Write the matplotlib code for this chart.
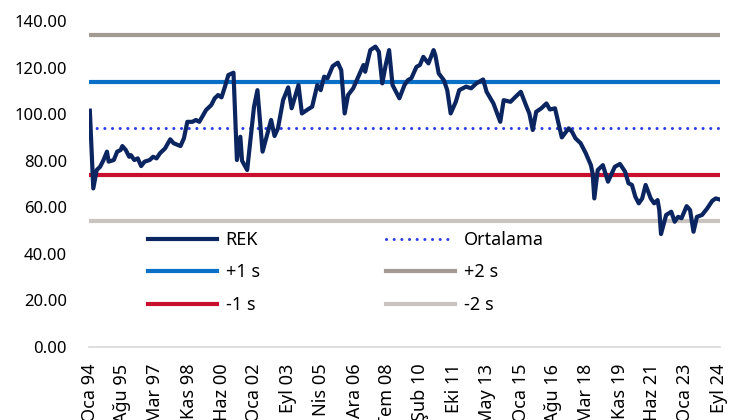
import matplotlib
matplotlib.use('Agg')
from matplotlib import pyplot as plt

# months since Jan 1994, REK value
months = [0, 2, 4, 6, 8, 10, 11, 14, 16, 18, 19, 21, 23, 24, 26, 28, 30, 32,
          35, 37, 39, 41, 44, 47, 49, 53, 55, 57, 60, 62, 64, 68, 71, 73, 75,
          77, 79, 81, 84, 86, 88, 89, 92, 96, 98, 101, 106, 108, 110, 113, 116,
          118, 122, 124, 127, 130, 133, 135, 137, 139, 142, 145, 147, 149, 151,
          154, 157, 160, 161, 164, 167, 169, 171, 173, 175, 177, 181, 184, 186,
          188, 191, 193, 195, 198, 201, 202, 204, 207, 209, 211, 214, 216, 220,
          223, 226, 230, 232, 236, 240, 242, 246, 249, 252, 255, 257, 259, 261,
          264, 267, 269, 272, 276, 280, 282, 284, 287, 290, 293, 294, 295, 297,
          300, 303, 307, 310, 313, 315, 317, 319, 321, 323, 325, 328, 330, 332,
          333, 334, 337, 340, 342, 344, 346, 349, 351, 353, 355, 358, 361, 364,
          366, 368]
rek = [101.5, 68.1, 76.0, 77.4, 80.3, 83.9, 79.6, 80.3, 83.9, 84.6, 86.3, 84.6,
       81.7, 82.4, 80.3, 81.0, 77.7, 79.6, 80.3, 81.7, 81.0, 83.2, 85.3, 89.2,
       87.5, 86.3, 89.6, 96.7, 96.7, 97.5, 96.7, 101.8, 103.9, 106.8, 108.2,
       107.2, 111.8, 116.8, 117.8, 80.3, 90.3, 80.0, 76.0, 103.2, 110.3, 83.9,
       97.5, 90.6, 93.9, 106.0, 111.5, 102.5, 112.5, 100.3, 101.8, 103.2, 112.5,
       110.3, 116.1, 115.4, 120.6, 122.1, 118.9, 100.3, 108.2, 111.1, 116.1,
       121.1, 118.2, 127.5, 129.0, 126.8, 113.2, 121.1, 127.5, 112.5, 106.8,
       112.5, 114.6, 115.4, 120.3, 121.1, 124.6, 121.8, 127.5, 125.4, 117.5,
       114.6, 110.3, 100.3, 105.3, 110.3, 111.8, 111.1, 113.2, 114.9, 109.6,
       104.6, 96.7, 106.0, 105.3, 107.5, 109.6, 103.9, 100.3, 93.2, 101.0,
       102.5, 104.6, 102.0, 102.5, 90.0, 93.9, 92.4, 89.6, 87.5, 83.2, 78.1,
       74.6, 63.8, 76.0, 78.1, 71.0, 77.4, 78.6, 75.3, 70.3, 69.6, 64.5, 61.7,
       63.8, 69.6, 63.8, 61.7, 63.1, 58.8, 48.5, 56.7, 58.1, 53.8, 55.9, 55.3,
       60.5, 58.8, 49.5, 55.9, 56.7, 59.5, 62.8, 63.8, 63.4]

ortalama = 93.9
sapma = 20.0

tick_months = [0, 19, 38, 58, 77, 96, 116, 135, 155, 174, 193, 213, 232, 252,
               271, 290, 310, 329, 348, 368]
tick_labels = ['Oca 94', 'Ağu 95', 'Mar 97', 'Kas 98', 'Haz 00', 'Oca 02',
               'Eyl 03', 'Nis 05', 'Ara 06', 'Tem 08', 'Şub 10', 'Eki 11',
               'May 13', 'Oca 15', 'Ağu 16', 'Mar 18', 'Kas 19', 'Haz 21',
               'Oca 23', 'Eyl 24']

plt.rcParams['font.family'] = ['Noto Sans', 'DejaVu Sans']

fig = plt.figure(figsize=(7.31, 4.2), dpi=100)
ax = fig.add_axes([89/731, 73/420, 631/731, 326/420])

xs = [-0.5, 368.5]
lw = 3.0
l_rek, = ax.plot(months, rek, color='#0b2560', lw=lw, zorder=5,
                 solid_joinstyle='round', label='REK')
l_p1, = ax.plot(xs, [ortalama + sapma]*2, color='#0a6fc6', lw=lw, label='+1 s')
l_m1, = ax.plot(xs, [ortalama - sapma]*2, color='#c8102e', lw=lw, label='-1 s')
l_ort, = ax.plot(xs, [ortalama]*2, color='#2a3de6', lw=2.2,
                 linestyle=(0, (0.01, 2.5)), dash_capstyle='round',
                 label='Ortalama')
l_p2, = ax.plot(xs, [ortalama + 2*sapma]*2, color='#a39a91', lw=lw, label='+2 s')
l_m2, = ax.plot(xs, [ortalama - 2*sapma]*2, color='#c9c4bf', lw=lw, label='-2 s')

ax.set_xlim(-0.5, 368.5)
ax.set_ylim(0, 140)
ax.set_yticks(range(0, 141, 20))
ax.set_yticklabels(['%.2f' % v for v in range(0, 141, 20)])
ax.set_xticks(tick_months)
ax.set_xticklabels(tick_labels, rotation=90, va='top', ha='center')
ax.tick_params(axis='y', length=0, pad=16, labelsize=12, colors='#000000')
ax.tick_params(axis='x', length=0, pad=12, labelsize=13, colors='#000000')

for s in ['top', 'right', 'left']:
  ax.spines[s].set_visible(False)
ax.spines['bottom'].set_color('#d9d9d9')
ax.spines['bottom'].set_linewidth(1.2)

ax.legend(handles=[l_rek, l_p1, l_m1, l_ort, l_p2, l_m2], ncol=2,
          loc='upper left', bbox_to_anchor=(148/731, 1 - 231/420),
          bbox_transform=fig.transFigure, frameon=False, fontsize=13,
          handlelength=3.8, columnspacing=7.0, labelspacing=0.8,
          handletextpad=0.5, borderpad=0, borderaxespad=0)

fig.savefig('out.png', dpi=100)
